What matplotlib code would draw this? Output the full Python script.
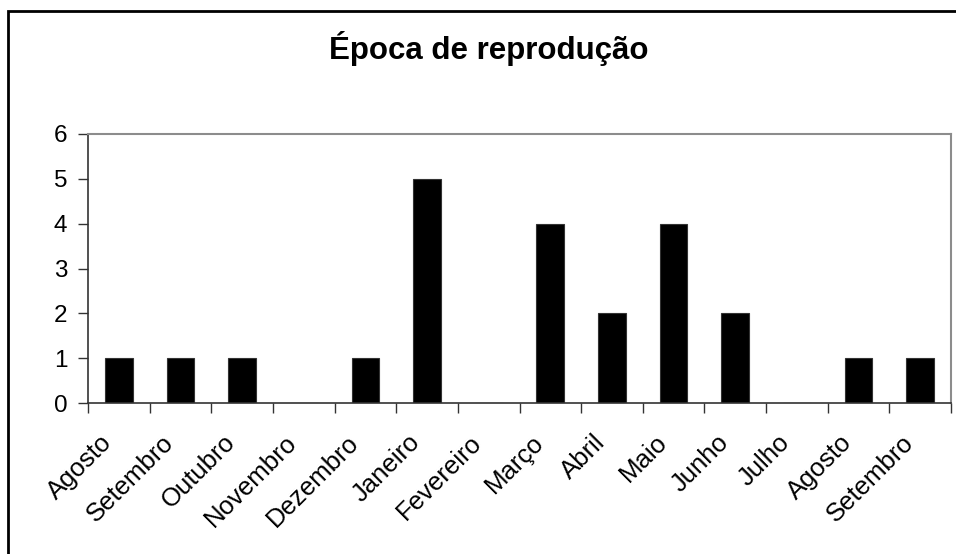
import matplotlib
matplotlib.use("Agg")
import matplotlib.pyplot as plt
from matplotlib.patches import Rectangle
from matplotlib.transforms import ScaledTranslation

plt.rcParams['font.family'] = ['Liberation Sans', 'DejaVu Sans']

months = ["Agosto", "Setembro", "Outubro", "Novembro", "Dezembro", "Janeiro",
          "Fevereiro", "Março", "Abril", "Maio", "Junho", "Julho", "Agosto", "Setembro"]
counts = [1, 1, 1, 0, 1, 5, 0, 4, 2, 4, 2, 0, 1, 1]
yticks = [0, 1, 2, 3, 4, 5, 6]

fig = plt.figure(figsize=(9.56, 5.54), dpi=100)
ax = fig.add_axes([88 / 956, 1 - 403 / 554, (951 - 88) / 956, (403 - 134) / 554])

x = list(range(len(months)))
ax.bar(x, counts, width=0.45, color="black", edgecolor="#333333", linewidth=0.8)

ax.set_xlim(-0.5, len(months) - 0.5)
ax.set_ylim(0, 6)
ax.set_yticks(yticks)
ax.set_yticklabels([str(v) for v in yticks], fontsize=17.5)

# Category ticks at boundaries, labels centered under bars
ax.set_xticks([i - 0.5 for i in range(len(months) + 1)])
ax.set_xticklabels([])
ax.set_xticks(x, minor=True)
ax.set_xticklabels(months, minor=True, rotation=45, ha="right", rotation_mode="anchor",
                   fontsize=18.5)
ax.tick_params(axis="x", which="minor", length=0, pad=6)
ax.tick_params(axis="x", which="major", direction="out", length=7, width=1, color="#333333")
ax.tick_params(axis="y", direction="out", length=7, width=1, color="#333333", pad=8)

# shift the slanted labels along their own direction
shift = ScaledTranslation(-0.19, -0.19, fig.dpi_scale_trans)
for lbl in ax.get_xticklabels(minor=True):
    lbl.set_transform(lbl.get_transform() + shift)

for side in ("left", "bottom"):
    ax.spines[side].set_color("#333333")
    ax.spines[side].set_linewidth(1.2)
for side in ("top", "right"):
    ax.spines[side].set_color("#8c8c8c")
    ax.spines[side].set_linewidth(1.5)

fig.text(489 / 956, 1 - 49 / 554, "Época de reprodução", ha="center", va="center",
         fontsize=22.5, fontweight="bold")

fig.patches.append(Rectangle((8 / 956, -0.01), 1.0, 1 - 11 / 554 + 0.01,
                             transform=fig.transFigure, fill=False,
                             edgecolor="black", linewidth=2))

fig.savefig("out.png", dpi=100)
